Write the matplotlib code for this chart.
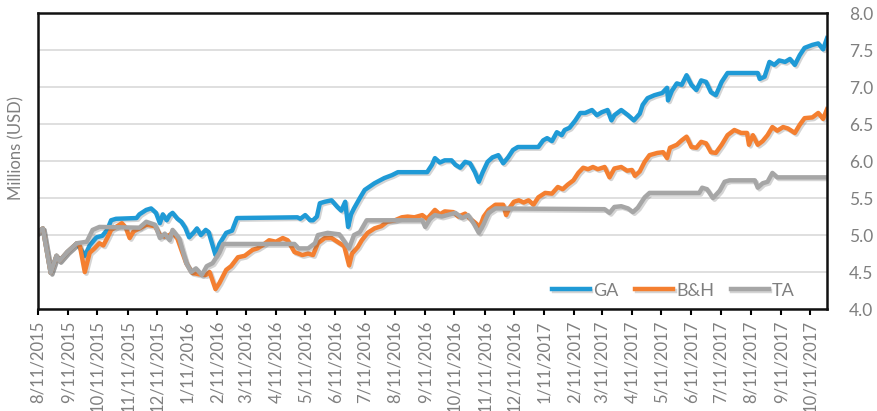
import pandas as pd
import matplotlib
matplotlib.use('Agg')
import matplotlib.pyplot as plt
import matplotlib.patheffects as pe

# Values (millions of USD)
ga_dates = ['2015-08-11', '2015-08-16', '2015-08-24', '2015-08-30', '2015-09-02', '2015-09-10',
            '2015-09-20', '2015-09-28', '2015-10-03', '2015-10-10', '2015-10-16', '2015-10-21',
            '2015-10-25', '2015-10-30', '2015-11-20', '2015-11-23', '2015-11-30', '2015-12-05',
            '2015-12-10', '2015-12-14', '2015-12-17', '2015-12-21', '2015-12-24', '2015-12-27',
            '2016-01-01', '2016-01-05', '2016-01-09', '2016-01-13', '2016-01-18', '2016-01-21',
            '2016-01-25', '2016-01-30', '2016-02-02', '2016-02-09', '2016-02-13', '2016-02-20',
            '2016-02-26', '2016-03-02', '2016-05-03', '2016-05-06', '2016-05-11', '2016-05-16',
            '2016-05-19', '2016-05-23', '2016-05-26', '2016-05-31', '2016-06-07', '2016-06-13',
            '2016-06-17', '2016-06-21', '2016-06-24', '2016-06-27', '2016-06-30', '2016-07-06',
            '2016-07-11', '2016-07-21', '2016-07-31', '2016-08-08', '2016-08-14', '2016-09-13',
            '2016-09-18', '2016-09-21', '2016-09-26', '2016-10-01', '2016-10-08', '2016-10-12',
            '2016-10-17', '2016-10-22', '2016-10-27', '2016-11-01', '2016-11-05', '2016-11-09',
            '2016-11-14', '2016-11-19', '2016-11-25', '2016-11-30', '2016-12-05', '2016-12-10',
            '2016-12-15', '2017-01-05', '2017-01-10', '2017-01-14', '2017-01-19', '2017-01-24',
            '2017-01-29', '2017-02-01', '2017-02-06', '2017-02-12', '2017-02-17', '2017-02-22',
            '2017-03-01', '2017-03-06', '2017-03-11', '2017-03-17', '2017-03-21', '2017-03-24',
            '2017-03-31', '2017-04-07', '2017-04-13', '2017-04-19', '2017-04-22', '2017-04-27',
            '2017-05-04', '2017-05-12', '2017-05-17', '2017-05-18', '2017-05-22', '2017-05-27',
            '2017-06-01', '2017-06-06', '2017-06-11', '2017-06-16', '2017-06-21', '2017-06-26',
            '2017-07-01', '2017-07-06', '2017-07-12', '2017-07-18', '2017-08-18', '2017-08-20',
            '2017-08-25', '2017-08-30', '2017-09-04', '2017-09-09', '2017-09-15', '2017-09-20',
            '2017-09-25', '2017-09-30', '2017-10-05', '2017-10-13', '2017-10-19', '2017-10-24',
            '2017-10-28']
ga_values = [5.04, 5.09, 4.49, 4.72, 4.65, 4.77, 4.89, 4.72, 4.86, 4.97, 4.99, 5.07,
             5.20, 5.22, 5.23, 5.28, 5.34, 5.36, 5.30, 5.16, 5.28, 5.20, 5.27, 5.30,
             5.22, 5.18, 5.10, 4.97, 5.04, 5.09, 5.00, 5.07, 5.04, 4.73, 4.88, 5.03,
             5.06, 5.23, 5.24, 5.22, 5.27, 5.20, 5.20, 5.25, 5.43, 5.45, 5.47, 5.38,
             5.33, 5.45, 5.11, 5.28, 5.36, 5.50, 5.61, 5.70, 5.77, 5.81, 5.85, 5.85,
             5.95, 6.04, 5.98, 6.01, 6.01, 5.95, 5.91, 5.99, 5.97, 5.85, 5.72, 5.85,
             5.99, 6.05, 6.08, 5.97, 6.05, 6.15, 6.19, 6.19, 6.28, 6.31, 6.27, 6.39,
             6.35, 6.42, 6.45, 6.55, 6.65, 6.65, 6.69, 6.62, 6.66, 6.69, 6.55, 6.62,
             6.69, 6.62, 6.55, 6.64, 6.76, 6.85, 6.89, 6.92, 6.99, 6.82, 6.95, 7.05,
             7.03, 7.16, 7.03, 6.96, 7.09, 7.07, 6.93, 6.89, 7.07, 7.19, 7.19, 7.11,
             7.14, 7.34, 7.30, 7.36, 7.34, 7.38, 7.30, 7.43, 7.53, 7.57, 7.59, 7.51,
             7.66]

bh_dates = ['2015-08-11', '2015-08-16', '2015-08-24', '2015-08-30', '2015-09-02', '2015-09-10',
            '2015-09-20', '2015-09-23', '2015-09-28', '2015-10-03', '2015-10-08', '2015-10-13',
            '2015-10-17', '2015-10-21', '2015-10-25', '2015-10-30', '2015-11-05', '2015-11-09',
            '2015-11-13', '2015-11-17', '2015-11-23', '2015-11-30', '2015-12-09', '2015-12-14',
            '2015-12-19', '2015-12-24', '2015-12-27', '2016-01-01', '2016-01-05', '2016-01-10',
            '2016-01-16', '2016-01-23', '2016-01-30', '2016-02-03', '2016-02-09', '2016-02-13',
            '2016-02-20', '2016-02-25', '2016-03-03', '2016-03-10', '2016-03-18', '2016-03-23',
            '2016-03-28', '2016-04-04', '2016-04-11', '2016-04-18', '2016-04-23', '2016-04-30',
            '2016-05-08', '2016-05-14', '2016-05-19', '2016-05-24', '2016-05-31', '2016-06-07',
            '2016-06-13', '2016-06-20', '2016-06-25', '2016-06-28', '2016-07-04', '2016-07-08',
            '2016-07-14', '2016-07-21', '2016-07-28', '2016-08-03', '2016-08-11', '2016-08-18',
            '2016-08-24', '2016-08-31', '2016-09-08', '2016-09-13', '2016-09-21', '2016-09-26',
            '2016-10-01', '2016-10-10', '2016-10-15', '2016-10-22', '2016-10-27', '2016-11-01',
            '2016-11-06', '2016-11-10', '2016-11-15', '2016-11-22', '2016-11-30', '2016-12-03',
            '2016-12-06', '2016-12-11', '2016-12-16', '2016-12-21', '2016-12-26', '2016-12-31',
            '2017-01-05', '2017-01-12', '2017-01-19', '2017-01-25', '2017-01-30', '2017-02-04',
            '2017-02-10', '2017-02-15', '2017-02-20', '2017-02-25', '2017-03-02', '2017-03-07',
            '2017-03-14', '2017-03-19', '2017-03-24', '2017-03-31', '2017-04-06', '2017-04-11',
            '2017-04-14', '2017-04-19', '2017-04-24', '2017-04-29', '2017-05-07', '2017-05-13',
            '2017-05-17', '2017-05-20', '2017-05-27', '2017-06-01', '2017-06-06', '2017-06-11',
            '2017-06-16', '2017-06-21', '2017-06-26', '2017-07-01', '2017-07-06', '2017-07-12',
            '2017-07-18', '2017-07-25', '2017-08-01', '2017-08-07', '2017-08-09', '2017-08-13',
            '2017-08-18', '2017-08-23', '2017-08-28', '2017-09-02', '2017-09-07', '2017-09-13',
            '2017-09-18', '2017-09-25', '2017-09-30', '2017-10-05', '2017-10-13', '2017-10-19',
            '2017-10-24', '2017-10-28']
bh_values = [5.04, 5.09, 4.49, 4.72, 4.65, 4.77, 4.89, 4.85, 4.50, 4.76, 4.82, 4.89,
             4.86, 4.96, 5.07, 5.11, 5.16, 5.10, 4.96, 5.05, 5.09, 5.14, 5.12, 5.00,
             4.98, 5.00, 5.04, 4.95, 4.80, 4.62, 4.49, 4.47, 4.46, 4.50, 4.27, 4.35,
             4.53, 4.58, 4.70, 4.72, 4.80, 4.82, 4.86, 4.93, 4.91, 4.96, 4.93, 4.77,
             4.73, 4.75, 4.73, 4.89, 4.96, 4.96, 4.91, 4.85, 4.59, 4.75, 4.84, 4.93,
             5.03, 5.09, 5.12, 5.18, 5.20, 5.24, 5.25, 5.24, 5.27, 5.22, 5.34, 5.28,
             5.32, 5.31, 5.25, 5.29, 5.22, 5.17, 5.11, 5.25, 5.34, 5.41, 5.41, 5.27,
             5.36, 5.45, 5.47, 5.44, 5.47, 5.41, 5.51, 5.57, 5.56, 5.65, 5.62, 5.68,
             5.74, 5.84, 5.91, 5.89, 5.92, 5.89, 5.92, 5.78, 5.90, 5.92, 5.87, 5.88,
             5.80, 5.86, 5.99, 6.08, 6.11, 6.12, 6.04, 6.18, 6.22, 6.28, 6.33, 6.19,
             6.18, 6.26, 6.24, 6.12, 6.11, 6.22, 6.35, 6.42, 6.38, 6.38, 6.22, 6.35,
             6.22, 6.27, 6.35, 6.46, 6.41, 6.46, 6.44, 6.38, 6.49, 6.58, 6.59, 6.65,
             6.57, 6.70]

ta_dates = ['2015-08-11', '2015-08-16', '2015-08-24', '2015-08-30', '2015-09-02', '2015-09-10',
            '2015-09-20', '2015-09-30', '2015-10-06', '2015-10-13', '2015-11-23', '2015-11-30',
            '2015-12-09', '2015-12-14', '2015-12-19', '2015-12-24', '2015-12-27', '2016-01-03',
            '2016-01-10', '2016-01-15', '2016-01-20', '2016-01-26', '2016-01-31', '2016-02-06',
            '2016-02-13', '2016-02-17', '2016-04-30', '2016-05-04', '2016-05-14', '2016-05-21',
            '2016-05-24', '2016-06-03', '2016-06-15', '2016-06-25', '2016-06-30', '2016-07-06',
            '2016-07-13', '2016-09-08', '2016-09-11', '2016-09-16', '2016-09-21', '2016-09-28',
            '2016-10-12', '2016-10-19', '2016-10-25', '2016-10-31', '2016-11-05', '2016-11-10',
            '2016-11-15', '2016-11-22', '2017-03-14', '2017-03-19', '2017-03-24', '2017-03-31',
            '2017-04-07', '2017-04-12', '2017-04-17', '2017-04-24', '2017-04-29', '2017-06-19',
            '2017-06-22', '2017-06-27', '2017-07-03', '2017-07-10', '2017-07-15', '2017-07-20',
            '2017-08-15', '2017-08-18', '2017-08-23', '2017-08-28', '2017-09-02', '2017-09-07',
            '2017-10-28']
ta_values = [5.04, 5.09, 4.49, 4.72, 4.65, 4.77, 4.89, 4.91, 5.07, 5.11, 5.10, 5.18,
             5.14, 4.96, 5.02, 4.93, 5.07, 4.95, 4.62, 4.50, 4.55, 4.46, 4.58, 4.62,
             4.76, 4.88, 4.88, 4.82, 4.82, 4.89, 5.00, 5.03, 5.01, 4.82, 5.00, 5.04,
             5.20, 5.20, 5.11, 5.22, 5.27, 5.25, 5.30, 5.23, 5.27, 5.15, 5.03, 5.15,
             5.30, 5.36, 5.35, 5.30, 5.38, 5.39, 5.36, 5.31, 5.37, 5.51, 5.57, 5.57,
             5.64, 5.62, 5.50, 5.60, 5.72, 5.74, 5.74, 5.64, 5.70, 5.72, 5.84, 5.78,
             5.78]

tick_dates = pd.date_range('2015-08-11', periods=27, freq=pd.DateOffset(months=1))
tick_labels = [f'{d.month}/{d.day}/{d.year}' for d in tick_dates]
y_ticks = [4.0, 4.5, 5.0, 5.5, 6.0, 6.5, 7.0, 7.5, 8.0]

series = [
    ('GA', ga_dates, ga_values, '#1F9AD6'),
    ('B&H', bh_dates, bh_values, '#F47F30'),
    ('TA', ta_dates, ta_values, '#A6A6A6'),
]

text_gray = '#7F7F7F'
plt.rcParams['font.family'] = ['Lato', 'DejaVu Sans']

fig = plt.figure(figsize=(8.77, 4.11), dpi=100)
ax = fig.add_axes([0.0433, 0.248, 0.8997, 0.7202])

# soft drop shadow under each line, like the original
shadow = [pe.SimpleLineShadow(offset=(1.2, -1.2), shadow_color='#555555', alpha=0.25),
          pe.Normal()]
for name, dates, vals, color in series:
    ax.plot(pd.to_datetime(dates), vals, color=color, lw=3.2, label=name,
            solid_joinstyle='round', path_effects=shadow)

ax.set_xlim(pd.Timestamp('2015-08-11'), pd.Timestamp('2017-10-28'))
ax.set_ylim(4.0, 8.0)
ax.set_yticks(y_ticks)
ax.set_yticklabels([f'{v:.1f}' for v in y_ticks])
ax.yaxis.tick_right()
ax.tick_params(axis='y', length=0, pad=16, labelsize=12.5, labelcolor=text_gray)

ax.set_xticks(tick_dates)
ax.set_xticklabels(tick_labels, rotation=90)
ax.tick_params(axis='x', direction='out', length=4, width=1.5, color='black',
               labelsize=12, labelcolor=text_gray, pad=4)

ax.grid(axis='y', color='#D9D9D9', lw=1.2)
ax.set_axisbelow(True)
for sp in ax.spines.values():
    sp.set_color('#111111')
    sp.set_linewidth(1.8)

fig.text(0.019, 0.64, 'Millions (USD)', rotation=90, ha='center', va='center',
         fontsize=12, color=text_gray)

ax.legend(loc='lower right', bbox_to_anchor=(0.98, -0.02), ncol=3, frameon=False,
          fontsize=13, labelcolor=text_gray, handlelength=2.1, handletextpad=0.2,
          columnspacing=0.9)

fig.savefig('out.png', dpi=100)
